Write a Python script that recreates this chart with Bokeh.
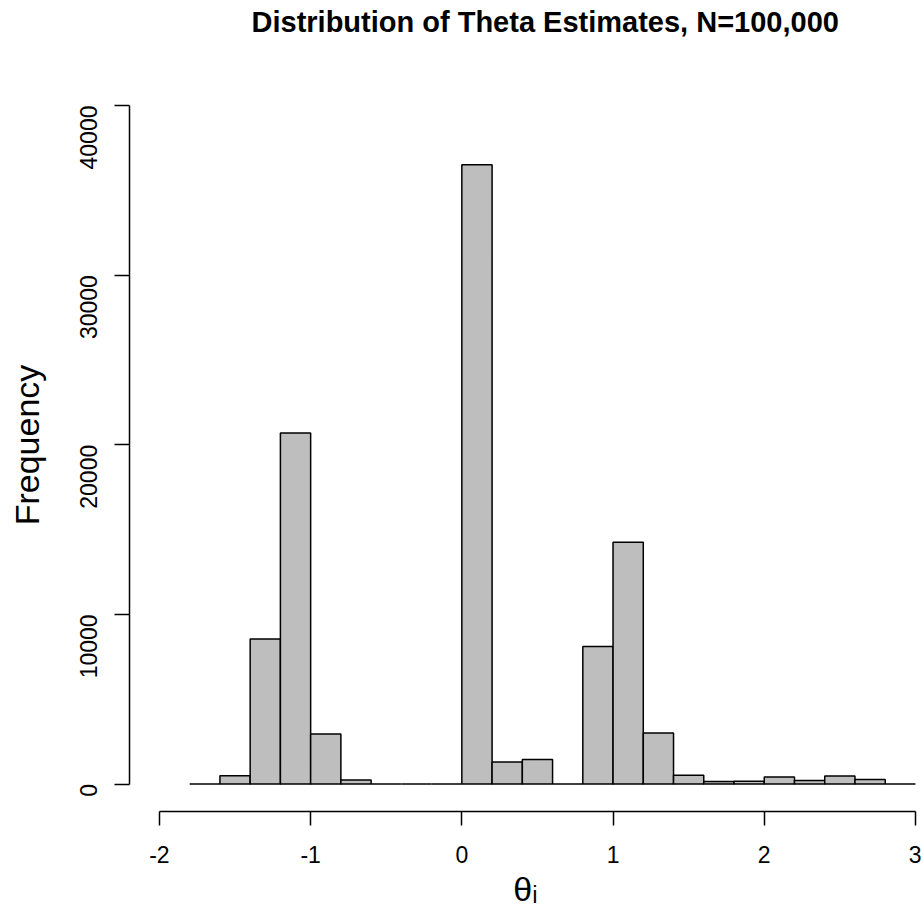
import math
from bokeh.plotting import figure
from bokeh.models import FixedTicker, Range1d, Title
from bokeh.embed import file_html
from bokeh.resources import INLINE

# ---- data ----
bin_left = [-1.8, -1.6, -1.4, -1.2, -1.0, -0.8, -0.6, -0.4, -0.2, 0.0, 0.2, 0.4,
            0.6, 0.8, 1.0, 1.2, 1.4, 1.6, 1.8, 2.0, 2.2, 2.4, 2.6, 2.8]
bin_right = [-1.6, -1.4, -1.2, -1.0, -0.8, -0.6, -0.4, -0.2, 0.0, 0.2, 0.4, 0.6,
             0.8, 1.0, 1.2, 1.4, 1.6, 1.8, 2.0, 2.2, 2.4, 2.6, 2.8, 3.0]
counts = [0, 480, 8550, 20700, 2950, 230, 0, 0, 0, 36500, 1300, 1450,
          0, 8100, 14250, 3000, 510, 150, 160, 410, 200, 470, 260, 0]
bottoms = [0] * len(counts)

x_ticks = [-2, -1, 0, 1, 2, 3]
x_tick_labels = ["-2", "-1", "0", "1", "2", "3"]
y_ticks = [0, 10000, 20000, 30000, 40000]
y_tick_labels = ["0", "10000", "20000", "30000", "40000"]

title_text = "Distribution of Theta Estimates, N=100,000"
xlab = "θᵢ"
ylab = "Frequency"

FONT = "Liberation Sans"

p = figure(width=921, height=918, output_backend="svg", toolbar_location=None,
           x_range=Range1d(-2.198, 3.04), y_range=Range1d(-1621, 41592),
           min_border_left=129, min_border_right=0, min_border_top=78,
           min_border_bottom=107)
p.outline_line_color = None
p.xgrid.visible = False
p.ygrid.visible = False
p.background_fill_color = "white"
p.border_fill_color = "white"

# spacer between frame and title (added first -> closest to the frame)
spacer = Title(text=" ", text_font=FONT, text_font_size="10px", standoff=22)
p.add_layout(spacer, "above")

main_title = Title(text=title_text, text_font=FONT, text_font_size="29px",
                   text_font_style="bold", text_color="black", align="left",
                   offset=122, vertical_align="top", standoff=8)
p.add_layout(main_title, "above")

p.quad(left=bin_left, right=bin_right, top=counts, bottom=bottoms,
       fill_color="#BEBEBE", line_color="black", line_width=1.5)

# x axis
xa = p.xaxis[0]
xa.ticker = FixedTicker(ticks=x_ticks)
xa.major_label_overrides = {t: l for t, l in zip(x_ticks, x_tick_labels)}
xa.bounds = (-2, 3)
xa.major_tick_in = 0
xa.major_tick_out = 14
xa.minor_tick_in = 0
xa.minor_tick_out = 0
xa.axis_line_width = 1.5
xa.major_tick_line_width = 1.5
xa.axis_line_color = "black"
xa.major_tick_line_color = "black"
xa.major_label_text_font = FONT
xa.major_label_text_font_size = "23px"
xa.major_label_text_color = "black"
xa.major_label_standoff = 20
xa.axis_label = xlab
xa.axis_label_text_font = FONT
xa.axis_label_text_font_size = "34px"
xa.axis_label_text_font_style = "normal"
xa.axis_label_text_color = "black"
xa.axis_label_standoff = 4

# y axis
ya = p.yaxis[0]
ya.ticker = FixedTicker(ticks=y_ticks)
ya.major_label_overrides = {t: l for t, l in zip(y_ticks, y_tick_labels)}
ya.bounds = (0, 40000)
ya.major_tick_in = 0
ya.major_tick_out = 15
ya.minor_tick_in = 0
ya.minor_tick_out = 0
ya.axis_line_width = 1.5
ya.major_tick_line_width = 1.5
ya.axis_line_color = "black"
ya.major_tick_line_color = "black"
ya.major_label_orientation = math.pi / 2
ya.major_label_text_font = FONT
ya.major_label_text_font_size = "23px"
ya.major_label_text_color = "black"
ya.major_label_standoff = 26
ya.axis_label = ylab
ya.axis_label_text_font = FONT
ya.axis_label_text_font_size = "34px"
ya.axis_label_text_font_style = "normal"
ya.axis_label_text_color = "black"
ya.axis_label_standoff = 23

open("out.html", "w").write(file_html(p, INLINE))
